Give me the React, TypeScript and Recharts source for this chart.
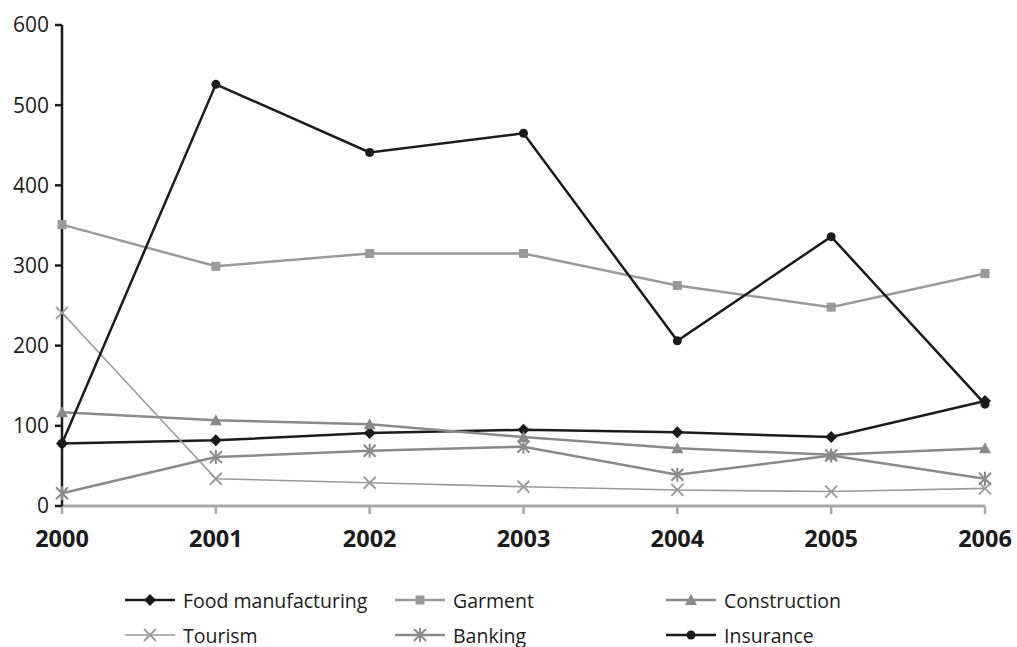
import React from "react";
import { LineChart, Line, XAxis, YAxis } from "recharts";

const years = ["2000", "2001", "2002", "2003", "2004", "2005", "2006"];
const foodManufacturing = [78, 82, 91, 95, 92, 86, 131];
const garment = [351, 299, 315, 315, 275, 248, 290];
const construction = [117, 107, 102, 86, 72, 64, 72];
const tourism = [241, 34, 29, 24, 20, 18, 22];
const banking = [16, 61, 69, 74, 39, 63, 34];
const insurance = [78, 526, 441, 465, 206, 336, 127];
const yTicks = [0, 100, 200, 300, 400, 500, 600];

const FONT = "'Open Sans', 'Noto Sans', sans-serif";
const BLACK = "#1b1b1b";
const GRAY = "#8a8a8a";
const LGRAY = "#9a9a9a";

type Kind = "diamond" | "square" | "triangle" | "x" | "star" | "circle";

const Marker = ({ kind, cx, cy, color }: { kind: Kind; cx: number; cy: number; color: string }) => {
  switch (kind) {
    case "diamond":
      return <path d={`M${cx},${cy - 6} L${cx + 6},${cy} L${cx},${cy + 6} L${cx - 6},${cy} Z`} fill={color} />;
    case "square":
      return <rect x={cx - 4.5} y={cy - 4.5} width={9} height={9} fill={color} />;
    case "triangle":
      return <path d={`M${cx},${cy - 6} L${cx + 6},${cy + 5} L${cx - 6},${cy + 5} Z`} fill={color} />;
    case "x":
      return (
        <g stroke={color} strokeWidth={1.8}>
          <line x1={cx - 6} y1={cy - 6} x2={cx + 6} y2={cy + 6} />
          <line x1={cx - 6} y1={cy + 6} x2={cx + 6} y2={cy - 6} />
        </g>
      );
    case "star":
      return (
        <g stroke={color} strokeWidth={2}>
          <line x1={cx - 6} y1={cy - 6} x2={cx + 6} y2={cy + 6} />
          <line x1={cx - 6} y1={cy + 6} x2={cx + 6} y2={cy - 6} />
          <line x1={cx} y1={cy - 7} x2={cx} y2={cy + 7} />
        </g>
      );
    case "circle":
    default:
      return <circle cx={cx} cy={cy} r={4.5} fill={color} />;
  }
};

const seriesDefs: { key: string; name: string; values: number[]; color: string; width: number; kind: Kind }[] = [
  { key: "food", name: "Food manufacturing", values: foodManufacturing, color: BLACK, width: 2.5, kind: "diamond" },
  { key: "garment", name: "Garment", values: garment, color: LGRAY, width: 2.5, kind: "square" },
  { key: "construction", name: "Construction", values: construction, color: GRAY, width: 2.5, kind: "triangle" },
  { key: "tourism", name: "Tourism", values: tourism, color: LGRAY, width: 1.6, kind: "x" },
  { key: "banking", name: "Banking", values: banking, color: GRAY, width: 2.5, kind: "star" },
  { key: "insurance", name: "Insurance", values: insurance, color: BLACK, width: 2.5, kind: "circle" },
];

const data = years.map((y, i) => {
  const row: Record<string, string | number> = { year: y };
  seriesDefs.forEach((s) => {
    row[s.key] = s.values[i];
  });
  return row;
});

const legendCols = [125, 395, 666];
const legendRows = [600, 635];

export default function App() {
  return (
    <div style={{ position: "absolute", left: 0, top: 0, width: 1017, height: 647, background: "#fff", overflow: "hidden" }}>
      <LineChart width={1017} height={647} data={data} margin={{ top: 25, right: 32, bottom: 0, left: 0 }}>
        <XAxis
          dataKey="year"
          scale="point"
          padding={{ left: 0, right: 0 }}
          height={141}
          axisLine={{ stroke: "#a8a8a8", strokeWidth: 3 }}
          tickLine={{ stroke: "#a8a8a8", strokeWidth: 2.5 }}
          tickSize={8}
          tickMargin={16}
          tick={{ fill: BLACK, fontSize: 23.5, fontWeight: 700, fontFamily: FONT }}
          interval={0}
        />
        <YAxis
          domain={[0, 600]}
          ticks={yTicks}
          width={62}
          axisLine={{ stroke: BLACK, strokeWidth: 2.5 }}
          tickLine={{ stroke: BLACK, strokeWidth: 2.5 }}
          tickSize={7}
          tickMargin={6}
          tick={{ fill: BLACK, fontSize: 21, fontFamily: FONT }}
        />
        {seriesDefs.map((s) => (
          <Line
            key={s.key}
            dataKey={s.key}
            name={s.name}
            stroke={s.color}
            strokeWidth={s.width}
            isAnimationActive={false}
            dot={(p: any) => <Marker key={`${s.key}-${p.index}`} kind={s.kind} cx={p.cx} cy={p.cy} color={s.color} />}
            activeDot={false}
          />
        ))}
      </LineChart>
      <svg width={1017} height={647} style={{ position: "absolute", left: 0, top: 0, pointerEvents: "none" }}>
        {seriesDefs.map((s, i) => {
          const x = legendCols[i % 3];
          const y = legendRows[Math.floor(i / 3)];
          return (
            <g key={s.key}>
              <line x1={x} y1={y} x2={x + 50} y2={y} stroke={s.color} strokeWidth={s.width} />
              <Marker kind={s.kind} cx={x + 25} cy={y} color={s.color} />
              <text x={x + 58} y={y} dominantBaseline="central" fontSize={19.5} fontFamily={FONT} fill={BLACK}>
                {s.name}
              </text>
            </g>
          );
        })}
      </svg>
    </div>
  );
}
